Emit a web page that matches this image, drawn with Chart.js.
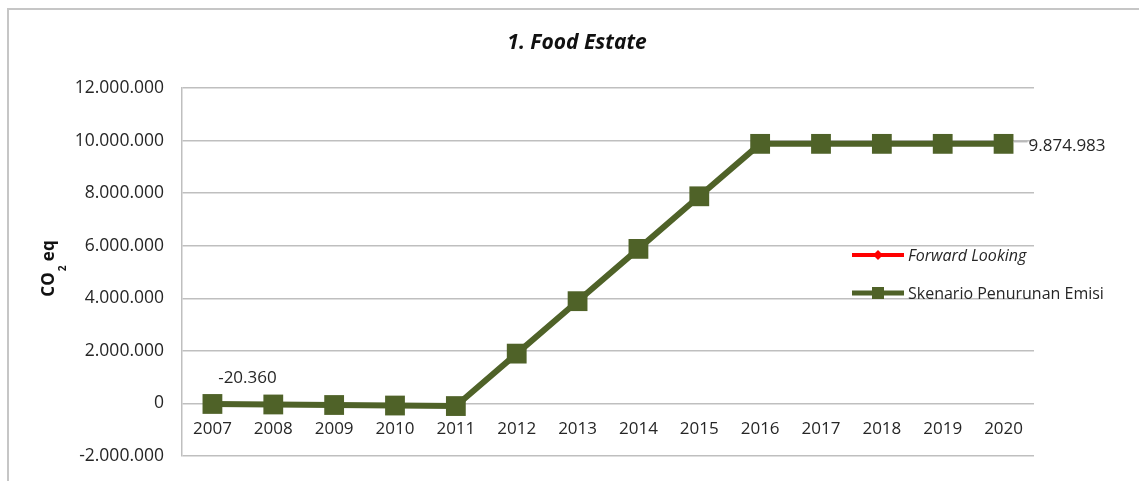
<!DOCTYPE html>
<html>
<head>
<meta charset="utf-8">
<title>Food Estate</title>
<script src="https://cdn.jsdelivr.net/npm/chart.js@4.4.1/dist/chart.umd.min.js"></script>
<style>
  html, body { margin: 0; padding: 0; background: #fff; overflow: hidden; }
  #frame {
    position: absolute; left: 7px; top: 8px; width: 1200px; height: 500px;
    border-left: 2px solid #c6c6c6; border-top: 2px solid #c6c6c6;
  }
  #wrap { position: absolute; left: 0; top: 0; width: 1139px; height: 481px; }
</style>
</head>
<body>
<div id="frame"></div>
<div id="wrap"><canvas id="emisiChart" width="1139" height="481"></canvas></div>
<script>
const years = ['2007', '2008', '2009', '2010', '2011', '2012', '2013',
               '2014', '2015', '2016', '2017', '2018', '2019', '2020'];
const forwardLooking = [-20360, -40000, -60000, -80000, -100000, 1895000, 3890000,
                        5880000, 7880000, 9874983, 9874983, 9874983, 9874983, 9874983];
const skenarioPenurunan = [-20360, -40000, -60000, -80000, -100000, 1895000, 3890000,
                           5880000, 7880000, 9874983, 9874983, 9874983, 9874983, 9874983];
const yTickValues = [-2000000, 0, 2000000, 4000000, 6000000, 8000000, 10000000, 12000000];
const chartTitle = '1. Food Estate';

const FONT = "'Open Sans', 'Liberation Sans', sans-serif";
const TEXT = '#262626';
const GREEN = '#4f6228';
const GRID = '#bfbfbf';

// 12000000 -> "12.000.000"
function fmt(v) {
    const s = Math.abs(Math.round(v)).toString().replace(/\B(?=(\d{3})+(?!\d))/g, '.');
    return (v < 0 ? '-' : '') + s;
}

const decorPlugin = {
    id: 'decor',
    afterDraw(chart) {
        const ctx = chart.ctx;

        // title, centred on the outer frame
        ctx.save();
        ctx.fillStyle = '#111';
        ctx.font = 'italic bold 21px ' + FONT;
        ctx.textAlign = 'center';
        ctx.textBaseline = 'middle';
        ctx.fillText(chartTitle, 577, 43);
        ctx.restore();

        // y axis title: CO2 eq with subscript
        ctx.save();
        ctx.translate(48, 269);
        ctx.rotate(-Math.PI / 2);
        ctx.fillStyle = '#111';
        ctx.textAlign = 'left';
        ctx.textBaseline = 'alphabetic';
        ctx.font = 'bold 17px ' + FONT;
        const wCO = ctx.measureText('CO').width;
        const wEq = ctx.measureText(' eq').width;
        ctx.font = 'bold 10px ' + FONT;
        const w2 = ctx.measureText('2').width;
        let x = -(wCO + w2 + wEq) / 2;
        ctx.font = 'bold 17px ' + FONT;
        ctx.fillText('CO', x, 6);
        x += wCO + 1;
        ctx.font = 'bold 10px ' + FONT;
        ctx.fillText('2', x, 18);
        x += w2;
        ctx.font = 'bold 17px ' + FONT;
        ctx.fillText(' eq', x, 6);
        ctx.restore();

        // legend inside the plot, right side
        const items = [
            { ds: chart.data.datasets[1], y: 255, italic: true, marker: 'diamond' },
            { ds: chart.data.datasets[0], y: 293, italic: false, marker: 'square' }
        ];
        items.forEach(it => {
            ctx.save();
            ctx.strokeStyle = it.ds.borderColor;
            ctx.lineWidth = it.marker === 'square' ? 5 : 4;
            ctx.beginPath();
            ctx.moveTo(852, it.y);
            ctx.lineTo(904, it.y);
            ctx.stroke();
            ctx.fillStyle = it.ds.pointBackgroundColor;
            ctx.beginPath();
            if (it.marker === 'square') {
                ctx.rect(878 - 6, it.y - 6, 12, 12);
            } else {
                ctx.moveTo(878, it.y - 5); ctx.lineTo(883, it.y);
                ctx.lineTo(878, it.y + 5); ctx.lineTo(873, it.y);
                ctx.closePath();
            }
            ctx.fill();
            ctx.fillStyle = TEXT;
            ctx.font = (it.italic ? 'italic ' : '') + '16px ' + FONT;
            ctx.textBaseline = 'middle';
            ctx.textAlign = 'left';
            ctx.fillText(it.ds.label, 908, it.y + 1);
            ctx.restore();
        });

        // value labels on the first and last point
        const meta = chart.getDatasetMeta(0);
        const data = chart.data.datasets[0].data;
        const first = meta.data[0];
        const last = meta.data[data.length - 1];
        ctx.save();
        ctx.fillStyle = TEXT;
        ctx.font = '17px ' + FONT;
        ctx.textBaseline = 'middle';
        ctx.textAlign = 'center';
        ctx.fillText(fmt(data[0]), first.x + 35, first.y - 26);

        ctx.strokeStyle = '#a6a6a6';
        ctx.lineWidth = 1;
        ctx.beginPath();
        ctx.moveTo(last.x + 10, last.y - 2);
        ctx.lineTo(last.x + 24, last.y - 2);
        ctx.stroke();
        ctx.textAlign = 'left';
        ctx.fillText(fmt(data[data.length - 1]), last.x + 25, last.y + 2);
        ctx.restore();
    }
};

new Chart(document.getElementById('emisiChart').getContext('2d'), {
    type: 'line',
    data: {
        labels: years,
        datasets: [{
            label: 'Skenario Penurunan Emisi',
            data: skenarioPenurunan,
            borderColor: GREEN,
            backgroundColor: GREEN,
            pointBackgroundColor: GREEN,
            borderWidth: 6,
            pointStyle: 'rect',
            pointRadius: 14,
            pointBorderWidth: 0,
            tension: 0,
            order: 0
        }, {
            label: 'Forward Looking',
            data: forwardLooking,
            borderColor: '#ff0000',
            backgroundColor: '#ff0000',
            pointBackgroundColor: '#ff0000',
            borderWidth: 3,
            pointStyle: 'rectRot',
            pointRadius: 4,
            tension: 0,
            order: 1
        }]
    },
    options: {
        responsive: false,
        animation: false,
        events: [],
        layout: { padding: { left: 14, right: 105, top: 88, bottom: 25 } },
        plugins: {
            legend: { display: false },
            tooltip: { enabled: false },
            title: { display: false }
        },
        scales: {
            x: {
                type: 'category',
                position: { y: 0 },
                offset: true,
                afterFit: scale => {
                    scale.paddingTop = 0;
                    scale.paddingBottom = 0;
                },
                grid: { display: false, drawTicks: false },
                border: { display: false },
                ticks: {
                    color: TEXT,
                    font: { family: FONT, size: 17 },
                    padding: 16,
                    maxRotation: 0,
                    autoSkip: false
                }
            },
            y: {
                min: -2000000,
                max: 12000000,
                afterBuildTicks: scale => {
                    scale.ticks = yTickValues.map(v => ({ value: v }));
                },
                afterFit: scale => {
                    scale.width = 168;
                    scale.paddingTop = 0;
                    scale.paddingBottom = 0;
                },
                grid: { color: GRID, lineWidth: 1.5, drawTicks: false },
                border: { display: true, color: GRID, width: 1.5 },
                ticks: {
                    color: TEXT,
                    font: { family: FONT, size: 17.5 },
                    padding: 18,
                    callback: v => fmt(v)
                }
            }
        }
    },
    plugins: [decorPlugin]
});
</script>
</body>
</html>
